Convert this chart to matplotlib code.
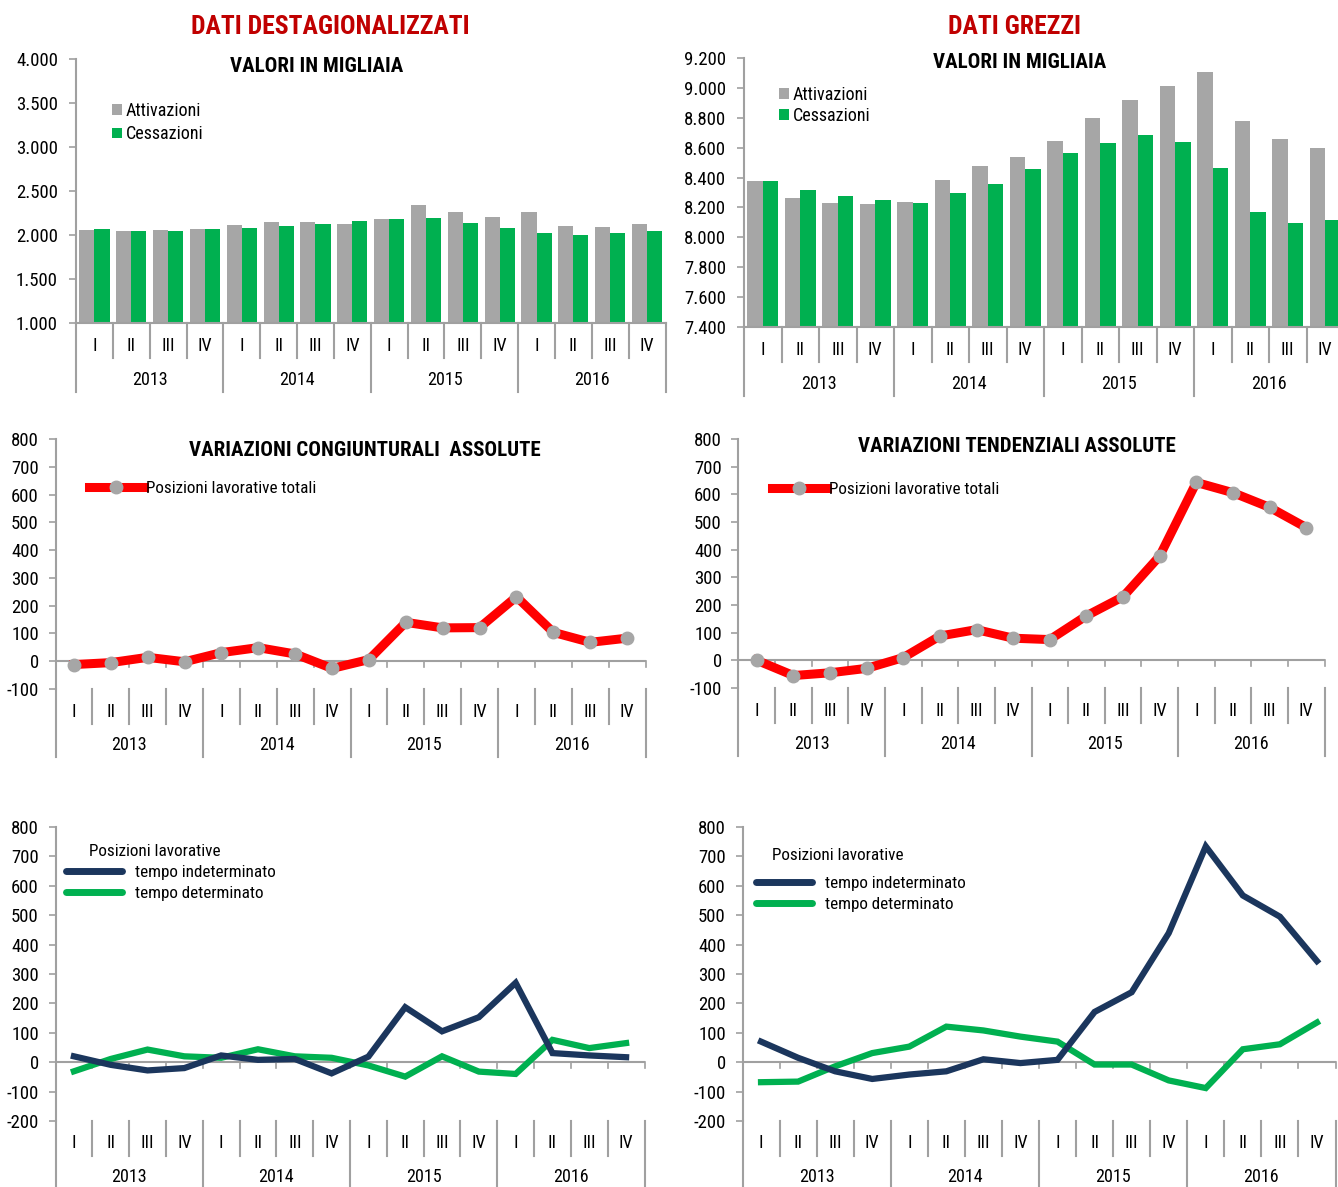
import matplotlib
matplotlib.use('Agg')
import matplotlib.pyplot as plt
import matplotlib.transforms as mtransforms
from matplotlib.patches import Patch
from matplotlib.lines import Line2D
from matplotlib.ticker import FuncFormatter, MultipleLocator

plt.rcParams['font.family'] = ['Roboto Condensed', 'Liberation Sans', 'DejaVu Sans']

# ---------------- data ----------------
quarters = ['I', 'II', 'III', 'IV'] * 4
years = ['2013', '2014', '2015', '2016']

dest_attivazioni = [2052, 2040, 2059, 2071, 2112, 2150, 2150, 2124,
                    2184, 2336, 2256, 2200, 2256, 2101, 2093, 2124]
dest_cessazioni = [2063, 2048, 2048, 2071, 2082, 2101, 2124, 2154,
                   2184, 2196, 2139, 2082, 2025, 2003, 2025, 2040]

grezzi_attivazioni = [8375, 8261, 8232, 8223, 8238, 8386, 8474, 8537,
                      8642, 8797, 8918, 9014, 9108, 8779, 8655, 8595]
grezzi_cessazioni = [8375, 8315, 8276, 8247, 8227, 8297, 8359, 8456,
                     8566, 8633, 8682, 8635, 8465, 8171, 8099, 8115]

var_cong_totali = [-12, -5, 14, -2, 31, 49, 26, -26,
                   6, 140, 120, 121, 232, 104, 68, 83]
var_tend_totali = [0, -55, -45, -29, 10, 88, 111, 80,
                   75, 161, 230, 377, 643, 606, 553, 480]

cong_indeterminato = [20, -9, -28, -20, 23, 8, 11, -38,
                      19, 187, 105, 153, 270, 31, 23, 17]
cong_determinato = [-31, 11, 43, 20, 15, 44, 20, 15,
                    -11, -49, 20, -32, -40, 76, 48, 65]

tend_indeterminato = [70, 15, -31, -57, -42, -31, 10, -3,
                      8, 171, 238, 439, 734, 567, 495, 344]
tend_determinato = [-68, -66, -14, 31, 53, 121, 108, 87,
                    70, -8, -8, -62, -88, 44, 61, 135]

# ---------------- style ----------------
W, H = 1338, 1187
fig = plt.figure(figsize=(W / 100, H / 100), dpi=100)

GREY_BAR = '#A6A6A6'
GREEN = '#00B050'
RED = '#FF0000'
NAVY = '#1B365D'
AXIS_GREY = '#A0A0A0'
TITLE_RED = '#C00000'
TICK_FS = 13.5
CAT_FS = 13
LEG_FS = 13
LINE_LEG_FS = 12.3
SUB_FS = 15

x = list(range(16))


def thousands(v, pos=None):
    return f"{int(round(v)):,}".replace(',', '.')


def int_fmt(v, pos=None):
    return f"{int(round(v))}"


def make_ax(x0, x1, ytop, ybot):
    return fig.add_axes([x0 / W, 1 - ybot / H, (x1 - x0) / W, (ybot - ytop) / H])


def setup(ax, ylim, step, h, lab_off, year_off, qsep, ysep, zero_line, fmt, pad):
    ax.set_xlim(-0.5, 15.5)
    ax.set_ylim(*ylim)
    ax.yaxis.set_major_locator(MultipleLocator(step))
    ax.yaxis.set_major_formatter(FuncFormatter(fmt))
    ax.tick_params(axis='y', length=5, width=1.2, color=AXIS_GREY,
                   labelsize=TICK_FS, pad=pad)
    ax.tick_params(axis='x', bottom=False, labelbottom=False)
    for s in ['top', 'right']:
        ax.spines[s].set_visible(False)
    ax.spines['left'].set_color(AXIS_GREY)
    ax.spines['left'].set_linewidth(1.5)
    ax.set_facecolor('none')
    trans = mtransforms.blended_transform_factory(ax.transData, ax.transAxes)
    f = lambda px: -px / h
    if zero_line:
        ax.spines['bottom'].set_visible(False)
        ax.axhline(0, color=AXIS_GREY, lw=1.5, zorder=1)
        dy = 6 * (ylim[1] - ylim[0]) / h
        for k in range(1, 17):
            ax.plot([k - 0.5, k - 0.5], [0, -dy], color=AXIS_GREY, lw=1.2,
                    zorder=1, clip_on=False)
    else:
        ax.spines['bottom'].set_color(AXIS_GREY)
        ax.spines['bottom'].set_linewidth(1.5)
    for i, q in enumerate(quarters):
        ax.text(i, f(lab_off), q, transform=trans, ha='center', va='center',
                fontsize=CAT_FS)
    for j, yr in enumerate(years):
        ax.text(4 * j + 1.5, f(year_off), yr, transform=trans, ha='center',
                va='center', fontsize=CAT_FS)
    for k in range(17):
        bottom = ysep if k % 4 == 0 else qsep
        ax.plot([k - 0.5, k - 0.5], [0, f(bottom)], transform=trans,
                color=AXIS_GREY, lw=1.5, clip_on=False)


def bar_panel(x0, x1, ytop, ybot, ylim, step, att, ces, legend_xy, spacing):
    ax = make_ax(x0, x1, ytop, ybot)
    bw = 0.41
    ax.bar([i - bw / 2 for i in x], [a - ylim[0] for a in att], bw,
           bottom=ylim[0], color=GREY_BAR, zorder=2)
    ax.bar([i + bw / 2 for i in x], [c - ylim[0] for c in ces], bw,
           bottom=ylim[0], color=GREEN, zorder=2)
    setup(ax, ylim, step, ybot - ytop, 23, 57, 35, 69, False, thousands, 8)
    handles = [Patch(facecolor=GREY_BAR), Patch(facecolor=GREEN)]
    ax.legend(handles, ['Attivazioni', 'Cessazioni'], loc='upper left',
              bbox_to_anchor=(legend_xy[0] / W, 1 - legend_xy[1] / H),
              bbox_transform=fig.transFigure, frameon=False,
              fontsize=LEG_FS, handlelength=0.55, handleheight=0.55,
              handletextpad=0.2, labelspacing=spacing, borderpad=0,
              borderaxespad=0)
    return ax


# ---------------- top row: bars ----------------
ax1 = bar_panel(76, 665.5, 59, 323, (1000, 4000), 500,
                dest_attivazioni, dest_cessazioni, (112, 102), 0.3)
fig.text(330 / W, 1 - 27 / H, 'DATI DESTAGIONALIZZATI', color=TITLE_RED,
         fontsize=18.5, fontweight='bold', ha='center', va='center')
fig.text(317 / W, 1 - 67 / H, 'VALORI IN MIGLIAIA', fontsize=SUB_FS,
         fontweight='bold', ha='center', va='center')

ax2 = bar_panel(744, 1344, 58, 327, (7400, 9200), 200,
                grezzi_attivazioni, grezzi_cessazioni, (779, 86), 0.15)
fig.text(1015 / W, 1 - 27 / H, 'DATI GREZZI', color=TITLE_RED,
         fontsize=18.5, fontweight='bold', ha='center', va='center')
fig.text(1020 / W, 1 - 62 / H, 'VALORI IN MIGLIAIA', fontsize=SUB_FS,
         fontweight='bold', ha='center', va='center')


# ---------------- middle row: red lines ----------------
def red_panel(x0, x1, ytop, ybot, vals, title, title_xy, leg_xy):
    ax = make_ax(x0, x1, ytop, ybot)
    ax.plot(x, vals, color=RED, lw=6.5, marker='o', markersize=9,
            markerfacecolor=GREY_BAR, markeredgecolor=GREY_BAR,
            solid_joinstyle='round', zorder=3, clip_on=False)
    setup(ax, (-100, 800), 100, ybot - ytop, 23, 56, 35, 68, True, int_fmt, 7)
    fig.text(title_xy[0] / W, 1 - title_xy[1] / H, title, fontsize=SUB_FS,
             fontweight='bold', ha='center', va='center')
    h = Line2D([], [], color=RED, lw=6.5, marker='o', markersize=9,
               markerfacecolor=GREY_BAR, markeredgecolor=GREY_BAR)
    ax.legend([h], ['Posizioni lavorative totali'], loc='upper left',
              bbox_to_anchor=(leg_xy[0] / W, 1 - leg_xy[1] / H),
              bbox_transform=fig.transFigure, frameon=False,
              fontsize=LINE_LEG_FS, handlelength=3.2, handletextpad=0.15,
              borderpad=0, borderaxespad=0)
    return ax


ax3 = red_panel(55.5, 645.5, 439, 689, var_cong_totali,
                'VARIAZIONI CONGIUNTURALI  ASSOLUTE', (365, 450), (89, 481))
ax4 = red_panel(738.5, 1324.5, 439, 688, var_tend_totali,
                'VARIAZIONI TENDENZIALI ASSOLUTE', (1017, 446), (772, 482))


# ---------------- bottom row: two lines ----------------
def two_panel(x0, x1, ytop, ybot, ind, det, title_xy, leg_xy):
    ax = make_ax(x0, x1, ytop, ybot)
    ax.plot(x, det, color=GREEN, lw=4.5, solid_joinstyle='miter', zorder=3)
    ax.plot(x, ind, color=NAVY, lw=4.5, solid_joinstyle='miter', zorder=4)
    setup(ax, (-200, 800), 100, ybot - ytop, 22, 56, 35, 80, True, int_fmt, 7)
    fig.text(title_xy[0] / W, 1 - title_xy[1] / H, 'Posizioni lavorative',
             fontsize=LINE_LEG_FS, ha='left', va='center')
    hs = [Line2D([], [], color=NAVY, lw=5, solid_capstyle='round'),
          Line2D([], [], color=GREEN, lw=5, solid_capstyle='round')]
    ax.legend(hs, ['tempo indeterminato', 'tempo determinato'],
              loc='upper left',
              bbox_to_anchor=(leg_xy[0] / W, 1 - leg_xy[1] / H),
              bbox_transform=fig.transFigure, frameon=False,
              fontsize=LINE_LEG_FS, handlelength=3.3, handletextpad=0.75,
              labelspacing=0.35, borderpad=0, borderaxespad=0)
    return ax


ax5 = two_panel(55.5, 644.5, 827, 1121, cong_indeterminato, cong_determinato,
                (89, 851), (66, 865))
ax6 = two_panel(742.5, 1335.5, 827, 1121, tend_indeterminato, tend_determinato,
                (772, 856), (756, 876))

fig.savefig('out.png', dpi=100)
